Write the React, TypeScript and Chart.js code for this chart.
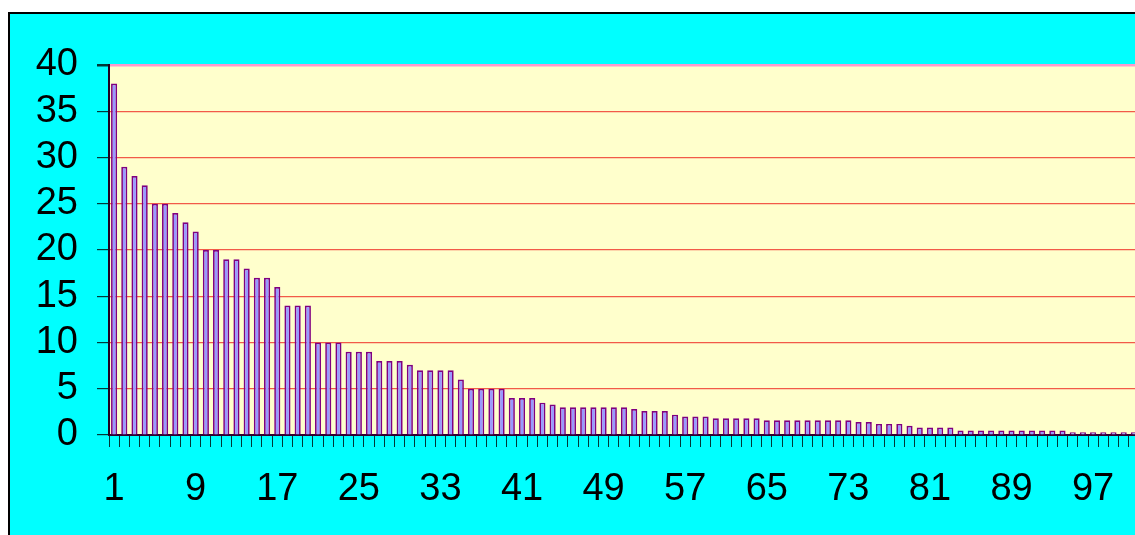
import React, { useEffect, useRef } from 'react';
import { Chart, registerables } from 'chart.js';

Chart.register(...registerables);

const categories: string[] = Array.from({ length: 101 }, (_, i) => String(i + 1));

const values: number[] = [
  38, 29, 28, 27, 25, 25, 24, 23, 22, 20,
  20, 19, 19, 18, 17, 17, 16, 14, 14, 14,
  10, 10, 10, 9, 9, 9, 8, 8, 8, 7.6,
  7, 7, 7, 7, 6, 5, 5, 5, 5, 4,
  4, 4, 3.5, 3.3, 3, 3, 3, 3, 3, 3,
  3, 2.8, 2.6, 2.6, 2.6, 2.2, 2, 2, 2, 1.8,
  1.8, 1.8, 1.8, 1.8, 1.6, 1.6, 1.6, 1.6, 1.6, 1.6,
  1.6, 1.6, 1.6, 1.4, 1.4, 1.2, 1.2, 1.2, 1, 0.8,
  0.8, 0.8, 0.8, 0.5, 0.5, 0.5, 0.5, 0.5, 0.5, 0.5,
  0.5, 0.5, 0.5, 0.5, 0.3, 0.3, 0.3, 0.3, 0.3, 0.3,
  0.3,
];

const yMin = 0;
const yMax = 40;
const yStep = 5;
const labelEvery = 8;

const FONT = 'Arial, "Liberation Sans", sans-serif';

export default function App() {
  const ref = useRef<HTMLCanvasElement>(null);

  useEffect(() => {
    if (!ref.current) return;
    const bgPlugin = {
      id: 'plotBg',
      beforeDraw(chart: any) {
        const { ctx, chartArea: a } = chart;
        ctx.save();
        ctx.fillStyle = '#ffffcc';
        ctx.fillRect(a.left, a.top, a.right - a.left, a.bottom - a.top);
        ctx.restore();
      },
    };
    const chart = new Chart(ref.current, {
      type: 'bar',
      data: {
        labels: categories,
        datasets: [
          {
            data: values,
            backgroundColor: '#9999ff',
            borderColor: '#800080',
            borderWidth: 1.7,
            barPercentage: 0.6,
            categoryPercentage: 1,
          },
        ],
      },
      options: {
        animation: false,
        responsive: false,
        events: [],
        plugins: { legend: { display: false }, tooltip: { enabled: false } },
        layout: { padding: { left: 0, top: 51, right: 31, bottom: 0 } },
        scales: {
          x: {
            offset: true,
            grid: {
              offset: true,
              drawOnChartArea: false,
              drawTicks: true,
              tickLength: 12,
              color: '#003838',
              tickColor: '#003838',
            },
            border: { display: true, color: '#300030', width: 2 },
            ticks: {
              autoSkip: false,
              maxRotation: 0,
              minRotation: 0,
              padding: 20,
              color: '#000',
              font: { size: 38, family: FONT },
              callback: (_v: any, i: number) => (i % labelEvery === 0 ? categories[i] : ''),
            },
            afterFit: (s: any) => {
              s.height = 119;
            },
          },
          y: {
            min: yMin,
            max: yMax,
            ticks: {
              stepSize: yStep,
              autoSkip: false,
              padding: 19,
              color: '#000',
              font: { size: 38, family: FONT },
            },
            grid: {
              color: (c: any) => (c.tick && c.tick.value === yMax ? '#ff99cc' : '#f25a48'),
              lineWidth: (c: any) => (c.tick && c.tick.value === yMax ? 2.5 : 1.2),
              tickColor: '#003838',
              tickLength: 12,
            },
            border: { display: true, color: '#200020', width: 2 },
            afterFit: (s: any) => {
              s.width = 99;
            },
          },
        },
      },
      plugins: [bgPlugin],
    });
    return () => chart.destroy();
  }, []);

  return (
    <div
      style={{
        position: 'absolute',
        left: 8,
        top: 12,
        width: 1127,
        height: 523,
        overflow: 'hidden',
        borderLeft: '2px solid #000',
        borderTop: '2px solid #000',
        background: '#00ffff',
        boxSizing: 'border-box',
      }}
    >
      <canvas ref={ref} width={1160} height={540} style={{ display: 'block', width: 1160, height: 540 }} />
    </div>
  );
}
